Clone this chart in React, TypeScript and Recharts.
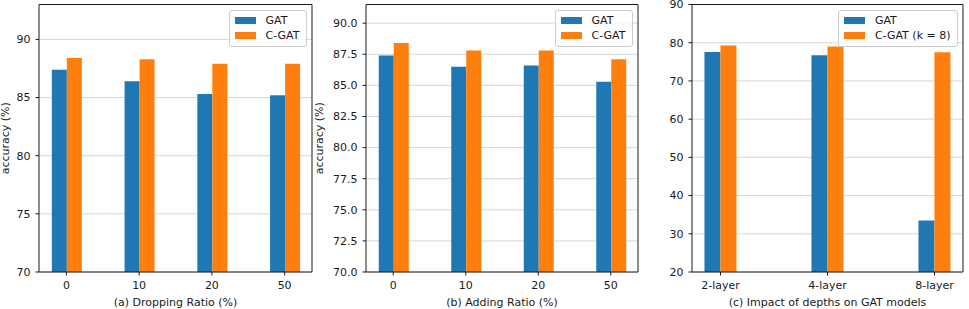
import { BarChart, Bar, XAxis, YAxis, CartesianGrid, Legend } from 'recharts'

const RATIOS = ['0', '10', '20', '50']
const DROP_GAT = [87.4, 86.4, 85.3, 85.2]
const DROP_CGAT = [88.4, 88.3, 87.9, 87.9]
const ADD_GAT = [87.4, 86.5, 86.6, 85.3]
const ADD_CGAT = [88.4, 87.8, 87.8, 87.1]
const DEPTHS = ['2-layer', '4-layer', '8-layer']
const DEPTH_GAT = [77.6, 76.7, 33.5]
const DEPTH_CGAT = [79.3, 79.0, 77.5]

const DROP_TICKS = [70, 75, 80, 85, 90]
const ADD_TICKS = [70, 72.5, 75, 77.5, 80, 82.5, 85, 87.5, 90]
const DEPTH_TICKS = [20, 30, 40, 50, 60, 70, 80, 90]

const SERIES_ORDER = ['gat', 'cgat']

const BLUE = '#1f77b4'
const ORANGE = '#ff7f0e'
const INK = '#1a1a1a'
const FONT = '"DejaVu Sans", sans-serif'

const tickStyle = { fontSize: 11, fill: INK, fontFamily: FONT }

function toRows(cats: string[], a: number[], b: number[]) {
  return cats.map((cat, i) => ({ cat, gat: a[i], cgat: b[i] }))
}

function LegendBox({ payload }: any) {
  const items = [...(payload || [])].sort(
    (a: any, b: any) => SERIES_ORDER.indexOf(a.dataKey) - SERIES_ORDER.indexOf(b.dataKey)
  )
  return (
    <div
      style={{
        background: 'rgba(255,255,255,0.8)',
        border: '1px solid #cccccc',
        borderRadius: 3,
        padding: '1.5px 6px 2px 5px',
        fontFamily: FONT,
        fontSize: 11,
        color: INK,
        whiteSpace: 'nowrap',
      }}
    >
      {items.map((p: any) => (
        <div key={p.value} style={{ display: 'flex', alignItems: 'center', height: 15.6 }}>
          <span style={{ display: 'inline-block', width: 21.5, height: 7, background: p.color, marginRight: 9.5 }} />
          <span>{p.value}</span>
        </div>
      ))}
    </div>
  )
}

// rotated y title, baseline a few px in from the chart's left edge
const yLabel = (inset: number) => (props: any) => {
  const vb = props.viewBox
  const x = vb.x + inset
  const y = vb.y + vb.height / 2
  return (
    <text x={x} y={y} transform={`rotate(-90, ${x}, ${y})`} textAnchor="middle" fontSize={11} fontFamily={FONT} fill={INK}>
      accuracy (%)
    </text>
  )
}

interface PanelProps {
  rows: { cat: string; gat: number; cgat: number }[]
  width: number
  yWidth: number
  right: number
  domain: [number, number]
  ticks: number[]
  fmt?: (v: number) => string
  pad: number
  gap: string
  xTitle: string
  cgatName: string
  labelInset?: number
}

function Panel(p: PanelProps) {
  const padding = { left: -p.pad, right: -p.pad }
  return (
    <BarChart
      width={p.width}
      height={309}
      data={p.rows}
      margin={{ top: 3.5, right: p.right - 1, left: 0, bottom: 0 }}
      barCategoryGap={p.gap}
      barGap={0}
    >
      <XAxis
        dataKey="cat"
        height={37}
        padding={padding}
        tick={tickStyle}
        tickSize={3.5}
        tickMargin={6}
        tickLine={{ stroke: INK }}
        axisLine={{ stroke: INK }}
        label={{ value: p.xTitle, position: 'insideBottom', offset: 3.5, fontSize: 11, fontFamily: FONT, fill: INK }}
      />
      <XAxis xAxisId="top" dataKey="cat" orientation="top" height={1} padding={padding} tick={false} tickLine={false} axisLine={{ stroke: INK }} />
      <YAxis
        width={p.yWidth}
        domain={p.domain}
        ticks={p.ticks}
        allowDataOverflow
        interval={0}
        tick={tickStyle}
        tickSize={3.5}
        tickMargin={5}
        tickFormatter={p.fmt}
        tickLine={{ stroke: INK }}
        axisLine={{ stroke: INK }}
        label={p.labelInset !== undefined ? { content: yLabel(p.labelInset) } : undefined}
      />
      <YAxis yAxisId="right" orientation="right" width={1} tick={false} tickLine={false} axisLine={{ stroke: INK }} />
      <Bar dataKey="gat" name="GAT" fill={BLUE} isAnimationActive={false} />
      <Bar dataKey="cgat" name={p.cgatName} fill={ORANGE} isAnimationActive={false} />
      <CartesianGrid vertical={false} stroke="#b0b0b0" strokeOpacity={0.5} />
      <Legend
        layout="horizontal"
        align="center"
        verticalAlign="middle"
        wrapperStyle={{ top: 10, right: p.right + 5.5, left: 'auto', width: 'auto' }}
        content={<LegendBox />}
      />
    </BarChart>
  )
}

export default function App() {
  return (
    <div style={{ position: 'absolute', left: 0, top: 0, width: 969, height: 309, background: '#fff', display: 'flex' }}>
      <Panel
        rows={toRows(RATIOS, DROP_GAT, DROP_CGAT)}
        width={313}
        yWidth={39}
        right={1}
        domain={[70, 93]}
        ticks={DROP_TICKS}
        pad={9}
        gap="30%"
        xTitle="(a) Dropping Ratio (%)"
        cgatName="C-GAT"
        labelInset={8.5}
      />
      <Panel
        rows={toRows(RATIOS, ADD_GAT, ADD_CGAT)}
        width={333}
        yWidth={53}
        right={8}
        domain={[70, 91.5]}
        ticks={ADD_TICKS}
        fmt={(v: number) => v.toFixed(1)}
        pad={9}
        gap="30%"
        xTitle="(b) Adding Ratio (%)"
        cgatName="C-GAT"
        labelInset={10}
      />
      <Panel
        rows={toRows(DEPTHS, DEPTH_GAT, DEPTH_CGAT)}
        width={323}
        yWidth={46}
        right={6}
        domain={[20, 90]}
        ticks={DEPTH_TICKS}
        pad={25}
        gap="35%"
        xTitle="(c) Impact of depths on GAT models"
        cgatName="C-GAT (k = 8)"
      />
    </div>
  )
}
